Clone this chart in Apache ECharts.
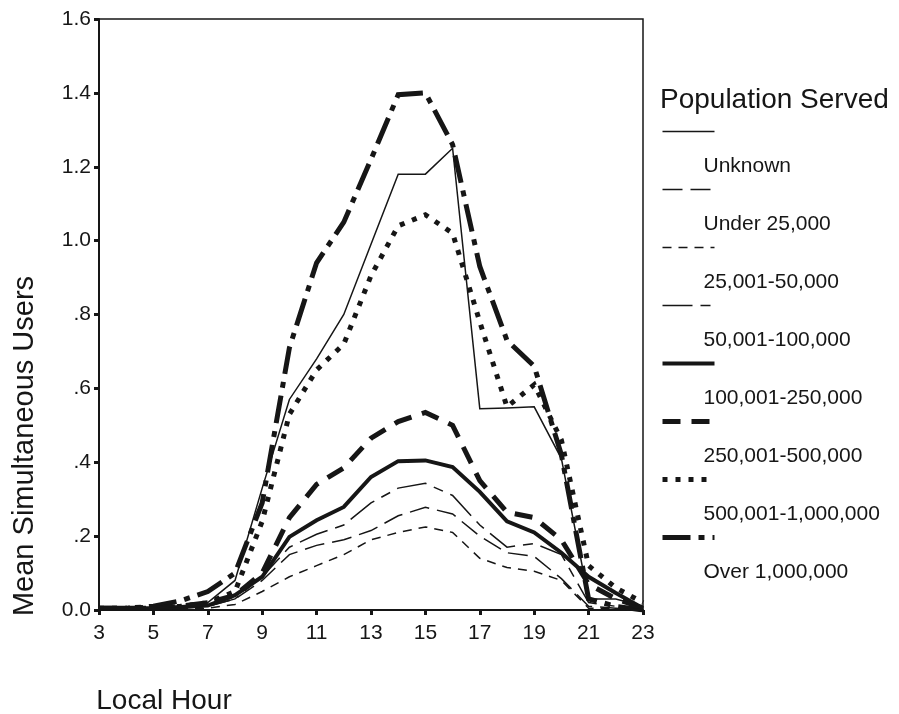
<!DOCTYPE html>
<html>
<head>
<meta charset="utf-8">
<script src="https://cdn.jsdelivr.net/npm/echarts@6/dist/echarts.min.js"></script>
<style>
html,body{margin:0;padding:0;background:#ffffff;}
#c{width:899px;height:714px;}
</style>
</head>
<body>
<div id="c"></div>
<script>
// ---- data ----
const hours = [3,4,5,6,7,8,9,10,11,12,13,14,15,16,17,18,19,20,21,22,23];
const seriesNames = ['Unknown','Under 25,000','25,001-50,000','50,001-100,000','100,001-250,000','250,001-500,000','500,001-1,000,000','Over 1,000,000'];
const unknown   = [0.005,0.005,0.005,0.01,0.02,0.08,0.33,0.57,0.68,0.80,0.99,1.18,1.18,1.25,0.545,0.547,0.55,0.41,0.03,0.03,0.01];
const under25k  = [0.003,0.003,0.003,0.005,0.01,0.03,0.08,0.15,0.175,0.19,0.215,0.255,0.278,0.26,0.20,0.155,0.145,0.085,0.01,0.005,0.0];
const k25to50   = [0.002,0.002,0.002,0.003,0.005,0.015,0.05,0.09,0.12,0.15,0.19,0.21,0.225,0.21,0.14,0.115,0.105,0.08,0.005,0.003,0.0];
const k50to100  = [0.003,0.003,0.003,0.005,0.01,0.03,0.09,0.17,0.205,0.23,0.29,0.33,0.343,0.31,0.23,0.17,0.18,0.15,0.02,0.01,0.0];
const k100to250 = [0.005,0.005,0.005,0.008,0.012,0.04,0.09,0.198,0.243,0.279,0.36,0.403,0.405,0.387,0.32,0.24,0.21,0.155,0.09,0.046,0.005];
const k250to500 = [0.005,0.005,0.005,0.01,0.02,0.04,0.10,0.25,0.34,0.385,0.465,0.51,0.535,0.50,0.35,0.265,0.25,0.19,0.07,0.03,0.005];
const k500to1m  = [0.005,0.005,0.008,0.01,0.02,0.05,0.24,0.53,0.65,0.72,0.905,1.04,1.07,1.02,0.78,0.55,0.61,0.46,0.12,0.06,0.02];
const over1m    = [0.005,0.005,0.01,0.025,0.05,0.10,0.29,0.71,0.94,1.05,1.22,1.395,1.40,1.26,0.93,0.73,0.66,0.42,0.03,0.01,0.0];
const yTickLabels = ['0.0','.2','.4','.6','.8','1.0','1.2','1.4','1.6'];
const legendTitle = 'Population Served';
const xAxisTitle = 'Local Hour';
const yAxisTitle = 'Mean Simultaneous Users';

// ---- styles ----
const FONT = '"Liberation Sans", Arial, Helvetica, sans-serif';
const INK = '#161616';
const lineStyles = [
  {width:1.5, type:'solid'},
  {width:1.5, type:[20,8]},
  {width:1.5, type:[9,7]},
  {width:1.5, type:[30,8,10,8]},
  {width:4,   type:'solid'},
  {width:5,   type:[18,11]},
  {width:5,   type:[5,8]},
  {width:5,   type:[28,8,6,8]}
];
const allValues = [unknown, under25k, k25to50, k50to100, k100to250, k250to500, k500to1m, over1m];

const series = allValues.map((vals, i) => ({
  name: seriesNames[i],
  type: 'line',
  symbol: 'none',
  animation: false,
  z: 10 - i,
  lineStyle: {color: INK, width: lineStyles[i].width, type: lineStyles[i].type, cap: 'butt', join: 'miter'},
  data: hours.map((h, j) => [h, vals[j]])
}));

const chart = echarts.init(document.getElementById('c'), null, {renderer: 'canvas'});
chart.setOption({
  animation: false,
  backgroundColor: '#ffffff',
  title: {
    text: legendTitle, left: 660, top: 86, padding: 0,
    textStyle: {fontFamily: FONT, fontSize: 28, fontWeight: 'normal', color: INK}
  },
  legend: {
    orient: 'vertical', left: 660, top: 86, padding: 0,
    itemWidth: 52, itemHeight: 10, itemGap: -33,
    selectedMode: false,
    itemStyle: {opacity: 0},
    lineStyle: {width: 'inherit'},
    formatter: name => '{g| }\n{t|' + name + '}',
    textStyle: {
      fontFamily: FONT, fontSize: 21, color: INK, padding: [0, 0, 0, -16],
      rich: {
        g: {fontSize: 10, lineHeight: 70, height: 70},
        t: {fontFamily: FONT, fontSize: 21, lineHeight: 21, color: INK}
      }
    },
    data: seriesNames.map((n, i) => ({name: n, lineStyle: {width: lineStyles[i].width, type: lineStyles[i].type, color: INK, cap: 'butt'}}))
  },
  grid: {left: 99, right: 256, top: 19, bottom: 104, show: true, borderColor: INK, borderWidth: 1.5,
    backgroundColor: 'transparent', containLabel: false, outerBoundsMode: 'none'},
  xAxis: {
    type: 'value', min: 3, max: 23, interval: 2,
    name: xAxisTitle, nameLocation: 'middle', nameGap: 77,
    nameTextStyle: {fontFamily: FONT, fontSize: 28, color: INK, padding: [0, 414, 0, 0]},
    axisLine: {show: true, onZero: false, lineStyle: {color: INK, width: 2}},
    axisTick: {show: true, length: 5, lineStyle: {color: INK, width: 3}},
    axisLabel: {fontFamily: FONT, fontSize: 21, color: INK, margin: 13},
    splitLine: {show: false}
  },
  yAxis: {
    type: 'value', min: 0, max: 1.6, interval: 0.2,
    name: yAxisTitle, nameLocation: 'middle', nameGap: 60,
    nameTextStyle: {fontFamily: FONT, fontSize: 29, color: INK, padding: [0, 263, 0, 0]},
    axisLine: {show: true, lineStyle: {color: INK, width: 2}},
    axisTick: {show: true, length: 5, lineStyle: {color: INK, width: 3}},
    axisLabel: {fontFamily: FONT, fontSize: 21, color: INK, margin: 8,
      formatter: v => yTickLabels[Math.round(v / 0.2)]},
    splitLine: {show: false}
  },
  series: series
});
</script>
</body>
</html>
